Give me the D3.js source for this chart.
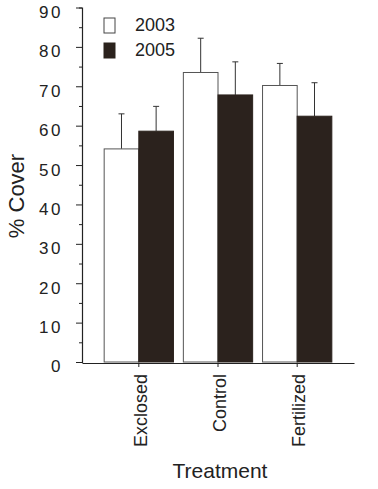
<!DOCTYPE html>
<html>
<head>
<meta charset="utf-8">
<script src="https://cdn.jsdelivr.net/npm/d3@7"></script>
<style>
  body { margin: 0; background: #fff; }
  svg { display: block; font-family: 'Liberation Sans', Arial, sans-serif; }
</style>
</head>
<body>
<div id="chart"></div>
<script>
const treatments = ['Exclosed', 'Control', 'Fertilized']
const years = ['2003', '2005']
const cover2003 = [54.1, 73.5, 70.2]
const cover2005 = [58.6, 67.8, 62.4]
const err2003 = [8.9, 8.7, 5.6]
const err2005 = [6.3, 8.4, 8.5]
const yTicks = [0, 10, 20, 30, 40, 50, 60, 70, 80, 90]

const svgSize = { width: 378, height: 489 }
const colors = { 2003: '#ffffff', 2005: '#2b221d' }

const data = treatments.map((t, i) => ({
  name: t,
  values: [
    { year: '2003', value: cover2003[i], err: err2003[i] },
    { year: '2005', value: cover2005[i], err: err2005[i] }
  ]
}))

const svg = d3.select('#chart')
  .append('svg')
  .attr('width', svgSize.width)
  .attr('height', svgSize.height)

const xScale = d3.scaleBand()
  .domain(treatments)
  .range([82, 354])
  .paddingInner(0.125)
  .paddingOuter(0.28)

const xSub = d3.scaleBand()
  .domain(years)
  .range([0, xScale.bandwidth()])

const yScale = d3.scaleLinear()
  .domain([0, 90])
  .range([362, 7.5])

// bars
const groups = svg.selectAll('.group')
  .data(data)
  .enter().append('g')
  .attr('class', 'group')
  .attr('transform', d => `translate(${xScale(d.name)},0)`)

// error bars (upper only)
groups.selectAll('.err')
  .data(d => d.values)
  .enter().append('path')
  .attr('class', 'err')
  .attr('fill', 'none')
  .attr('stroke', '#333')
  .attr('stroke-width', 1)
  .attr('d', d => {
    const cx = xSub(d.year) + xSub.bandwidth() / 2
    const y0 = yScale(d.value)
    const y1 = yScale(d.value + d.err)
    return `M${cx},${y0}V${y1}M${cx - 3},${y1}H${cx + 3}`
  })

groups.selectAll('rect')
  .data(d => d.values)
  .enter().append('rect')
  .attr('x', d => xSub(d.year))
  .attr('y', d => yScale(d.value))
  .attr('width', xSub.bandwidth())
  .attr('height', d => yScale(0) - yScale(d.value))
  .attr('fill', d => colors[d.year])
  .attr('stroke', d => d.year === '2003' ? '#555' : '#2b221d')
  .attr('stroke-width', 1)

// y axis
const yAxis = svg.append('g')
  .attr('transform', 'translate(82,0)')
  .call(d3.axisLeft(yScale).tickValues(d3.range(0, 91, 5)).tickSize(3).tickFormat(''))
yAxis.select('.domain').attr('stroke', '#222').attr('stroke-width', 1.2)
yAxis.selectAll('.tick line')
  .attr('stroke', '#222')
  .attr('x2', d => d % 10 === 0 ? -6 : -3)

svg.append('g')
  .selectAll('text')
  .data(yTicks)
  .enter().append('text')
  .attr('x', 63)
  .attr('y', d => yScale(d) + 6)
  .attr('text-anchor', 'end')
  .attr('dominant-baseline', 'middle')
  .attr('font-size', '17px')
  .attr('letter-spacing', '2.5px')
  .attr('fill', '#222')
  .text(d => d)

// x axis
const xAxis = svg.append('g')
  .attr('transform', `translate(0,${yScale(0) + 1})`)
  .call(d3.axisBottom(xScale).tickSize(0).tickFormat(''))
xAxis.select('.domain').attr('stroke', '#222').attr('stroke-width', 1.2)

svg.append('g')
  .selectAll('line')
  .data(treatments)
  .enter().append('line')
  .attr('x1', d => xScale(d) + xScale.bandwidth() / 2)
  .attr('x2', d => xScale(d) + xScale.bandwidth() / 2)
  .attr('y1', yScale(0) + 1)
  .attr('y2', yScale(0) + 5)
  .attr('stroke', '#222')

svg.append('g')
  .selectAll('text')
  .data(treatments)
  .enter().append('text')
  .attr('transform', d => `translate(${xScale(d) + xScale.bandwidth() / 2 + 8},374) rotate(-90)`)
  .attr('text-anchor', 'end')
  .attr('font-size', '18px')
  .attr('fill', '#222')
  .text(d => d)

// axis titles
svg.append('text')
  .attr('transform', 'translate(24,196) rotate(-90)')
  .attr('text-anchor', 'middle')
  .attr('font-size', '22px')
  .attr('fill', '#222')
  .text('% Cover')

svg.append('text')
  .attr('x', 220)
  .attr('y', 478)
  .attr('text-anchor', 'middle')
  .attr('font-size', '21px')
  .attr('fill', '#222')
  .text('Treatment')

// legend
const legend = svg.append('g')
  .attr('transform', 'translate(104,18)')

legend.selectAll('rect')
  .data(years)
  .enter().append('rect')
  .attr('x', 0)
  .attr('y', (d, i) => i * 25)
  .attr('width', 11)
  .attr('height', 15)
  .attr('fill', d => colors[d])
  .attr('stroke', d => d === '2003' ? '#444' : '#2b221d')

legend.selectAll('text')
  .data(years)
  .enter().append('text')
  .attr('x', 31)
  .attr('y', (d, i) => i * 25 + 8)
  .attr('dominant-baseline', 'middle')
  .attr('font-size', '18px')
  .attr('fill', '#222')
  .text(d => d)
</script>
</body>
</html>
